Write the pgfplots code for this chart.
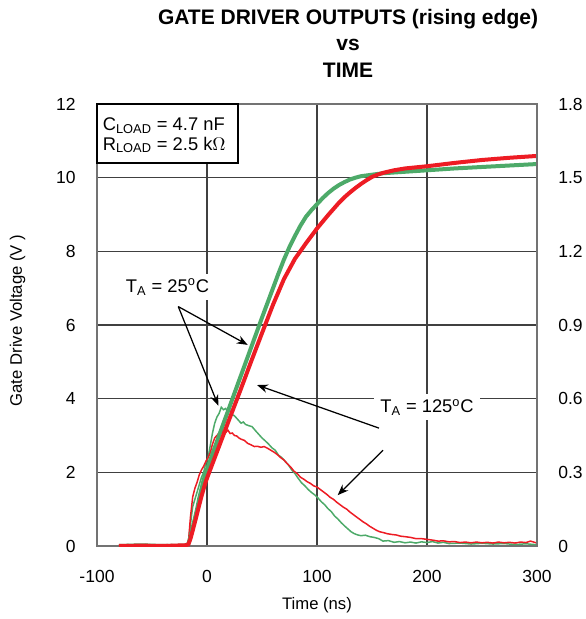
\documentclass[border=0pt]{standalone}
\usepackage{pgfplots}
\pgfplotsset{compat=1.18}
\usepackage{fontspec}
\setmainfont{Liberation Sans}
\usetikzlibrary{arrows.meta}
\definecolor{cgreen}{RGB}{77,170,105}
\definecolor{cred}{RGB}{237,28,36}

\begin{document}
\begin{tikzpicture}
\path[use as bounding box] (-58.2pt,-43.8pt) rectangle (292.8pt,327.6pt);
\begin{axis}[
  at={(0,0)}, anchor=south west,
  scale only axis, width=264pt, height=265.2pt,
  xmin=-100, xmax=300, ymin=0, ymax=12,
  clip mode=individual,
  xtick={-100,0,100,200,300}, ytick={0,2,4,6,8,10,12},
  grid=major,
  major grid style={draw=black!75, line width=0.65pt},
  axis line style={draw=black!55, line width=0.9pt},
  major tick length=0pt,
  /pgf/number format/assume math mode=true,
  tick label style={font=\fontsize{10.5}{12}\selectfont, inner sep=0pt},
  yticklabel style={xshift=-12.6pt},
  xticklabel style={yshift=-14.4pt},
  xlabel={Time (ns)},
  ylabel={Gate Drive Voltage (V )},
  label style={font=\fontsize{10.2}{12}\selectfont},
  every axis x label/.style={at={(axis description cs:0.5,-0.1335)}, anchor=center},
  every axis y label/.style={at={(axis description cs:-0.1807,0.51)}, anchor=center, rotate=90},
]
% currents (A), scaled onto the voltage axis (1.8 A <-> 12 V)
\addplot[color=cgreen, line width=0.9pt] table[x=t, y expr=\thisrow{I}*12/1.8] {
t I
-80 0.003
-76 -0.002
-72 0.005
-68 0.000
-64 0.004
-60 -0.003
-56 0.006
-52 0.001
-48 0.004
-44 -0.002
-40 0.005
-36 0.000
-32 0.006
-28 -0.001
-24 0.004
-20 0.002
-17 0.008
-15 0.09
-13 0.16
-11 0.19
-9 0.22
-7 0.25
-5 0.28
-3 0.30
-1 0.34
1 0.36
3 0.41
5 0.46
7 0.50
9 0.525
11 0.54
13 0.565
15 0.555
17 0.56
19 0.545
21 0.55
23 0.535
25 0.53
27 0.52
29 0.51
31 0.50
33 0.505
35 0.495
38 0.49
41 0.486
44 0.47
47 0.455
50 0.44
53 0.428
56 0.415
59 0.40
62 0.39
65 0.37
68 0.36
71 0.345
74 0.33
77 0.31
80 0.295
83 0.275
86 0.257
89 0.245
92 0.23
95 0.218
98 0.208
101 0.195
104 0.18
107 0.168
110 0.152
113 0.14
116 0.122
119 0.11
122 0.095
125 0.082
128 0.07
131 0.058
134 0.05
137 0.045
140 0.042
144 0.044
148 0.038
152 0.035
156 0.03
160 0.02
165 0.022
170 0.015
175 0.018
180 0.013
185 0.016
190 0.012
195 0.017
200 0.014
205 0.018
210 0.012
215 0.015
220 0.01
230 0.012
240 0.008
250 0.011
260 0.008
270 0.01
280 0.006
290 0.009
300 0.005
};
\addplot[color=cred, line width=0.9pt] table[x=t, y expr=\thisrow{I}*12/1.8] {
t I
-80 0.004
-76 0.000
-72 0.006
-68 0.002
-64 -0.002
-60 0.005
-56 0.001
-52 0.006
-48 -0.001
-44 0.004
-40 0.002
-36 0.006
-32 0.000
-28 0.005
-24 0.002
-20 0.004
-17 0.01
-15 0.12
-13 0.2
-11 0.235
-9 0.26
-7 0.29
-5 0.31
-3 0.325
-1 0.345
1 0.36
3 0.38
5 0.415
7 0.44
9 0.45
11 0.46
13 0.465
15 0.47
17 0.462
19 0.472
21 0.458
23 0.46
25 0.45
27 0.448
29 0.44
31 0.435
34 0.43
37 0.418
40 0.412
43 0.405
46 0.406
49 0.402
52 0.405
55 0.398
58 0.39
61 0.382
64 0.372
67 0.36
70 0.35
73 0.335
76 0.322
79 0.305
82 0.295
85 0.28
88 0.272
91 0.262
94 0.255
97 0.245
100 0.24
103 0.23
106 0.22
109 0.21
112 0.198
115 0.19
118 0.178
121 0.168
124 0.158
127 0.15
130 0.138
133 0.128
136 0.118
139 0.108
142 0.098
145 0.09
148 0.08
151 0.072
154 0.064
157 0.058
160 0.055
164 0.05
168 0.047
172 0.045
176 0.04
180 0.038
185 0.035
190 0.03
195 0.03
200 0.027
205 0.024
210 0.02
215 0.021
220 0.017
225 0.018
230 0.014
235 0.016
240 0.013
245 0.016
250 0.013
255 0.015
260 0.012
265 0.016
270 0.013
275 0.015
280 0.012
285 0.016
290 0.014
294 0.02
297 0.016
300 0.012
};
% voltages (V)
\addplot[color=cgreen, line width=2.4pt] table {
-80 0.0
-60 0.02
-40 0.0
-20 0.01
-17 0.05
-15 0.25
-13 0.5
-11 0.75
-9 1.0
-7 1.3
-5 1.55
-3 1.8
-1 2.0
5 2.5
10 2.92
20 3.74
30 4.56
40 5.38
50 6.2
60 7.0
65 7.4
70 7.78
75 8.12
80 8.42
85 8.7
90 8.94
95 9.12
100 9.28
105 9.44
110 9.58
115 9.7
120 9.8
125 9.88
130 9.95
135 10.0
140 10.04
145 10.06
150 10.08
160 10.12
170 10.14
180 10.16
200 10.2
225 10.25
250 10.29
275 10.33
300 10.37
};
\addplot[color=cred, line width=2.4pt] table {
-80 0.0
-60 0.01
-40 0.0
-20 0.02
-17 0.04
-15 0.2
-13 0.42
-11 0.65
-9 0.88
-7 1.12
-5 1.35
-3 1.56
-1 1.76
2 2.0
10 2.63
20 3.42
30 4.2
40 5.0
50 5.78
60 6.55
70 7.25
80 7.8
86 8.05
90 8.22
95 8.42
100 8.62
105 8.8
110 8.98
115 9.15
120 9.32
125 9.47
130 9.6
135 9.72
140 9.83
145 9.93
150 10.02
155 10.08
160 10.13
170 10.2
180 10.25
200 10.31
225 10.4
250 10.48
275 10.54
300 10.59
};
% condition box
\draw[black, line width=0.7pt, fill=white] (axis cs:-100,12) rectangle (axis cs:28.2,10.4);
\node[anchor=base west, inner sep=0pt, font=\fontsize{11}{13}\selectfont] at (axis cs:-95,11.27) {C\textsubscript{LOAD} = 4.7 nF};
\node[anchor=base west, inner sep=0pt, font=\fontsize{11}{13}\selectfont] at (axis cs:-95,10.75) {R\textsubscript{LOAD} = 2.5 k$\Omega$};
% annotations
\node[anchor=base, fill=white, inner sep=3pt, font=\fontsize{11}{13}\selectfont] at (axis cs:-35.9,6.88) {T\textsubscript{A} = 25\textsuperscript{o}C};
\node[anchor=base, fill=white, inner xsep=4pt, inner ysep=3pt, font=\fontsize{11}{13}\selectfont] at (axis cs:200,3.62) {T\textsubscript{A} = 125\textsuperscript{o}C};
\draw[black, line width=0.75pt, -{Stealth[length=6.5pt,width=5pt]}] (axis cs:-26.1,6.5) -- (axis cs:37,5.46);
\draw[black, line width=0.75pt, -{Stealth[length=6.5pt,width=5pt]}] (axis cs:-26.1,6.5) -- (axis cs:10.3,3.81);
\draw[black, line width=0.75pt, -{Stealth[length=6.5pt,width=5pt]}] (axis cs:156.4,3.2) -- (axis cs:45.5,4.37);
\draw[black, line width=0.75pt, -{Stealth[length=6.5pt,width=5pt]}] (axis cs:160,2.6) -- (axis cs:118.8,1.38);
% title
\node[anchor=base, font=\fontsize{12.6}{15}\selectfont\bfseries] at (axis description cs:0.5705,1.1795) {GATE DRIVER OUTPUTS (rising edge)};
\node[anchor=base, font=\fontsize{12.6}{15}\selectfont\bfseries] at (axis description cs:0.5705,1.12) {vs};
\node[anchor=base, font=\fontsize{12.6}{15}\selectfont\bfseries] at (axis description cs:0.5705,1.059) {TIME};
\end{axis}
\begin{axis}[
  at={(0,0)}, anchor=south west,
  scale only axis, width=264pt, height=265.2pt,
  xmin=-100, xmax=300, ymin=0, ymax=1.8,
  axis x line=none, axis y line*=right,
  ytick={0,0.3,0.6,0.9,1.2,1.5,1.8},
  axis line style={draw=black!55, line width=0.9pt},
  major tick length=0pt,
  /pgf/number format/assume math mode=true,
  /pgf/number format/fixed,
  tick label style={font=\fontsize{10.5}{12}\selectfont, inner sep=0pt},
  yticklabel style={xshift=12.6pt},
]
\end{axis}
\end{tikzpicture}
\end{document}
